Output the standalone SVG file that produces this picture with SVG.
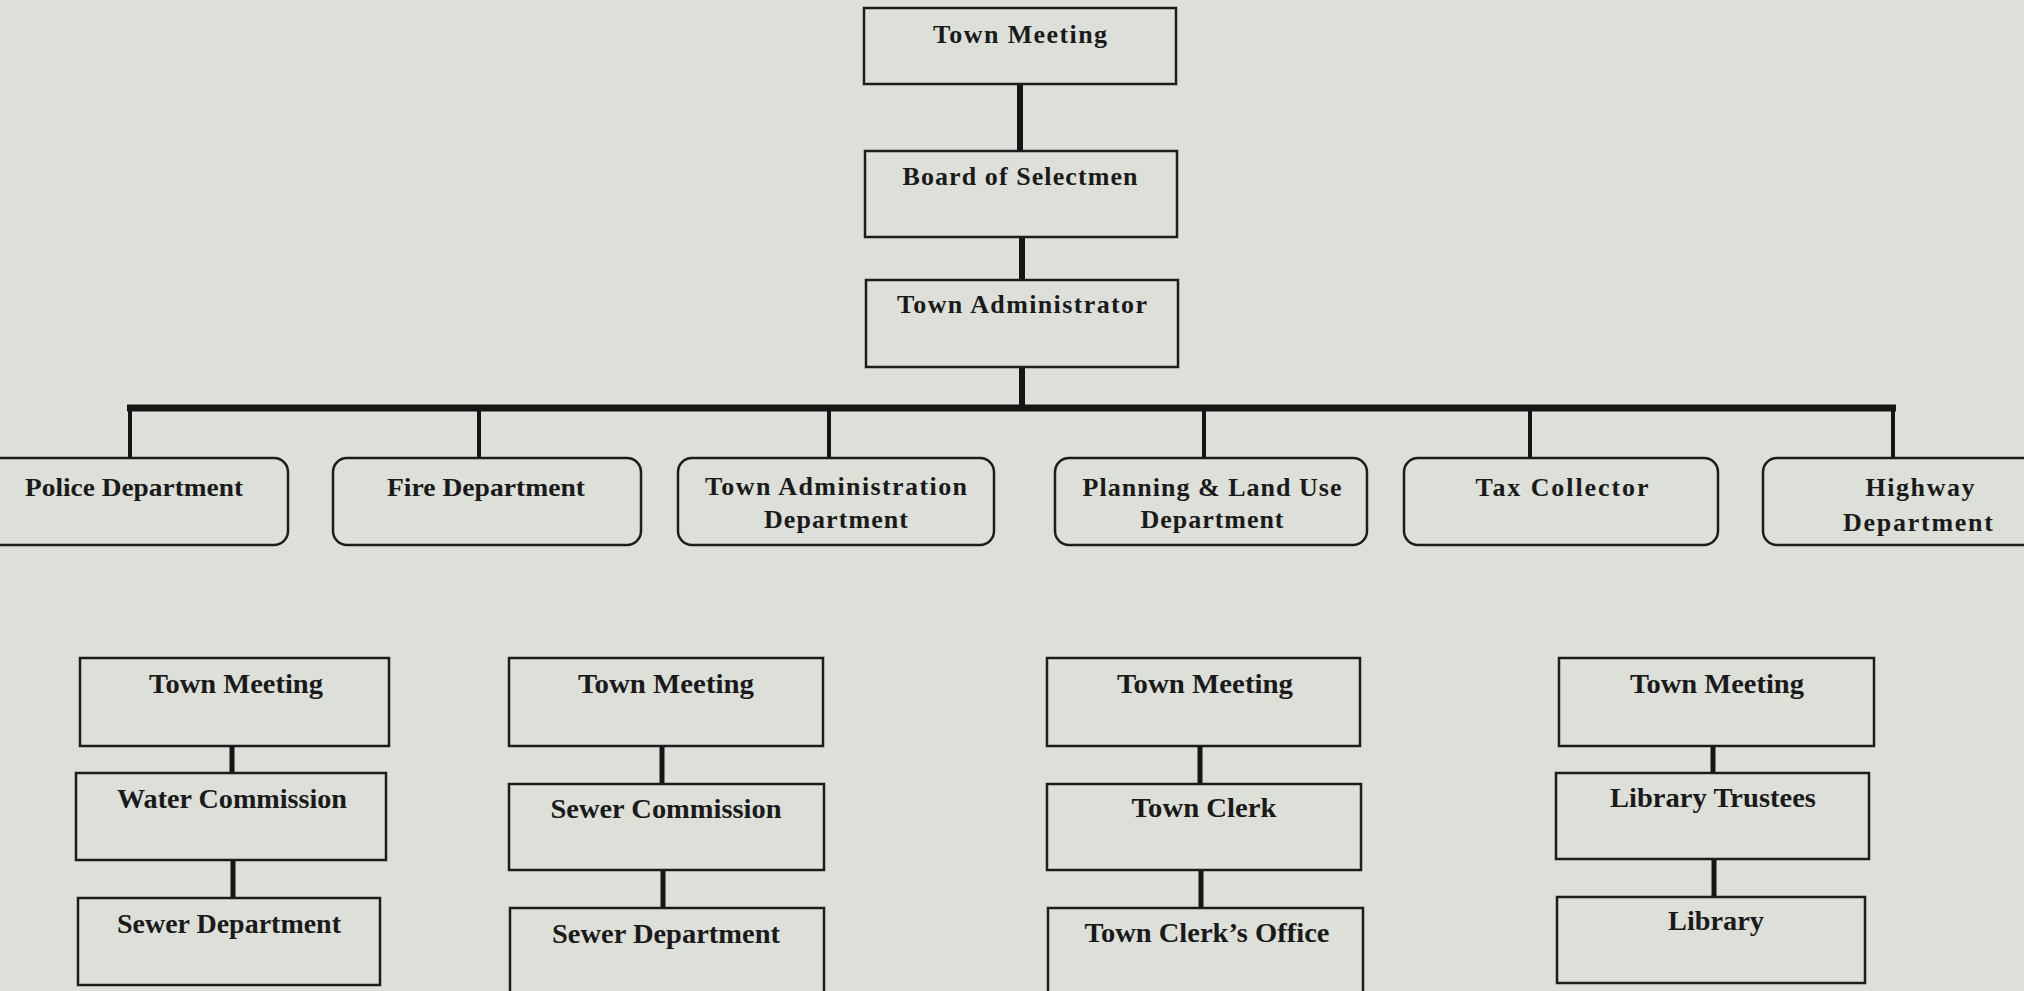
<svg xmlns="http://www.w3.org/2000/svg" width="2024" height="991" viewBox="0 0 2024 991">
<style>
.bg{fill:#dddfd9}
.box{fill:#dddfd9;stroke:#1c1c1c;stroke-width:2.5}
.t{font-family:"Liberation Serif","Times New Roman",serif;font-weight:bold;font-size:26px;fill:#1a1a1a;text-anchor:middle}
.b{font-size:27px}
.c{stroke:#151515;fill:none}
</style>
<rect class="bg" x="0" y="0" width="2024" height="991"/>
<g id="connectors">
  <line class="c" x1="1020" y1="84" x2="1020" y2="151" stroke-width="6"/>
  <line class="c" x1="1022" y1="237" x2="1022" y2="280" stroke-width="6"/>
  <line class="c" x1="1022" y1="367" x2="1022" y2="408" stroke-width="6"/>
  <polyline class="c" points="130,458 130,408 1893,408 1893,458" stroke-width="4"/>
  <line class="c" x1="127" y1="408" x2="1896" y2="408" stroke-width="7"/>
  <line class="c" x1="479" y1="408" x2="479" y2="458" stroke-width="4"/>
  <line class="c" x1="829" y1="408" x2="829" y2="458" stroke-width="4"/>
  <line class="c" x1="1204" y1="408" x2="1204" y2="458" stroke-width="4"/>
  <line class="c" x1="1530" y1="408" x2="1530" y2="458" stroke-width="4"/>
  <line class="c" x1="232" y1="746" x2="232" y2="773" stroke-width="5"/>
  <line class="c" x1="233" y1="860" x2="233" y2="898" stroke-width="5"/>
  <line class="c" x1="662" y1="746" x2="662" y2="784" stroke-width="5"/>
  <line class="c" x1="663" y1="870" x2="663" y2="908" stroke-width="5"/>
  <line class="c" x1="1200" y1="746" x2="1200" y2="784" stroke-width="5"/>
  <line class="c" x1="1201" y1="870" x2="1201" y2="908" stroke-width="5"/>
  <line class="c" x1="1713" y1="746" x2="1713" y2="773" stroke-width="5"/>
  <line class="c" x1="1714" y1="859" x2="1714" y2="897" stroke-width="5"/>
</g>
<g id="n-town-meeting">
  <rect class="box" x="864" y="8" width="312" height="76"/>
  <text class="t" x="1020" y="43" textLength="174" lengthAdjust="spacing">Town Meeting</text>
</g>
<g id="n-board">
  <rect class="box" x="865" y="151" width="312" height="86"/>
  <text class="t" x="1020" y="185" textLength="235" lengthAdjust="spacing">Board of Selectmen</text>
</g>
<g id="n-administrator">
  <rect class="box" x="866" y="280" width="312" height="87"/>
  <text class="t" x="1022" y="313" textLength="250" lengthAdjust="spacing">Town Administrator</text>
</g>
<g id="n-police">
  <rect class="box" x="-22" y="458" width="310" height="87" rx="14"/>
  <text class="t" x="134" y="496" textLength="218" lengthAdjust="spacingAndGlyphs">Police Department</text>
</g>
<g id="n-fire">
  <rect class="box" x="333" y="458" width="308" height="87" rx="14"/>
  <text class="t" x="486" y="496" textLength="198" lengthAdjust="spacingAndGlyphs">Fire Department</text>
</g>
<g id="n-town-admin-dept">
  <rect class="box" x="678" y="458" width="316" height="87" rx="14"/>
  <text class="t" x="836" y="495" textLength="262" lengthAdjust="spacing">Town Administration</text>
  <text class="t" x="836" y="528" textLength="144" lengthAdjust="spacing">Department</text>
</g>
<g id="n-planning">
  <rect class="box" x="1055" y="458" width="312" height="87" rx="14"/>
  <text class="t" x="1212" y="496" textLength="259" lengthAdjust="spacing">Planning &amp; Land Use</text>
  <text class="t" x="1212" y="528" textLength="143" lengthAdjust="spacing">Department</text>
</g>
<g id="n-tax">
  <rect class="box" x="1404" y="458" width="314" height="87" rx="14"/>
  <text class="t" x="1562" y="496" textLength="173" lengthAdjust="spacing">Tax Collector</text>
</g>
<g id="n-highway">
  <rect class="box" x="1763" y="458" width="316" height="87" rx="14"/>
  <text class="t" x="1920" y="496" textLength="109" lengthAdjust="spacing">Highway</text>
  <text class="t" x="1918" y="531" textLength="150" lengthAdjust="spacing">Department</text>
</g>
<g id="n-tm-water">
  <rect class="box" x="80" y="658" width="309" height="88"/>
  <text class="t b" x="236" y="693" textLength="174" lengthAdjust="spacingAndGlyphs">Town Meeting</text>
</g>
<g id="n-water-commission">
  <rect class="box" x="76" y="773" width="310" height="87"/>
  <text class="t b" x="232" y="808" textLength="230" lengthAdjust="spacingAndGlyphs">Water Commission</text>
</g>
<g id="n-sewer-dept-1">
  <rect class="box" x="78" y="898" width="302" height="87"/>
  <text class="t b" x="229" y="933" textLength="224" lengthAdjust="spacingAndGlyphs">Sewer Department</text>
</g>
<g id="n-tm-sewer">
  <rect class="box" x="509" y="658" width="314" height="88"/>
  <text class="t b" x="666" y="693" textLength="176" lengthAdjust="spacingAndGlyphs">Town Meeting</text>
</g>
<g id="n-sewer-commission">
  <rect class="box" x="509" y="784" width="315" height="86"/>
  <text class="t b" x="666" y="818" textLength="231" lengthAdjust="spacingAndGlyphs">Sewer Commission</text>
</g>
<g id="n-sewer-dept-2">
  <rect class="box" x="510" y="908" width="314" height="100"/>
  <text class="t b" x="666" y="943" textLength="228" lengthAdjust="spacingAndGlyphs">Sewer Department</text>
</g>
<g id="n-tm-clerk">
  <rect class="box" x="1047" y="658" width="313" height="88"/>
  <text class="t b" x="1205" y="693" textLength="176" lengthAdjust="spacingAndGlyphs">Town Meeting</text>
</g>
<g id="n-town-clerk">
  <rect class="box" x="1047" y="784" width="314" height="86"/>
  <text class="t b" x="1204" y="817" textLength="145" lengthAdjust="spacingAndGlyphs">Town Clerk</text>
</g>
<g id="n-clerk-office">
  <rect class="box" x="1048" y="908" width="315" height="100"/>
  <text class="t b" x="1207" y="942" textLength="245" lengthAdjust="spacingAndGlyphs">Town Clerk’s Office</text>
</g>
<g id="n-tm-library">
  <rect class="box" x="1559" y="658" width="315" height="88"/>
  <text class="t b" x="1717" y="693" textLength="174" lengthAdjust="spacingAndGlyphs">Town Meeting</text>
</g>
<g id="n-library-trustees">
  <rect class="box" x="1556" y="773" width="313" height="86"/>
  <text class="t b" x="1713" y="807" textLength="206" lengthAdjust="spacingAndGlyphs">Library Trustees</text>
</g>
<g id="n-library">
  <rect class="box" x="1557" y="897" width="308" height="86"/>
  <text class="t b" x="1716" y="930" textLength="96" lengthAdjust="spacingAndGlyphs">Library</text>
</g>
</svg>
